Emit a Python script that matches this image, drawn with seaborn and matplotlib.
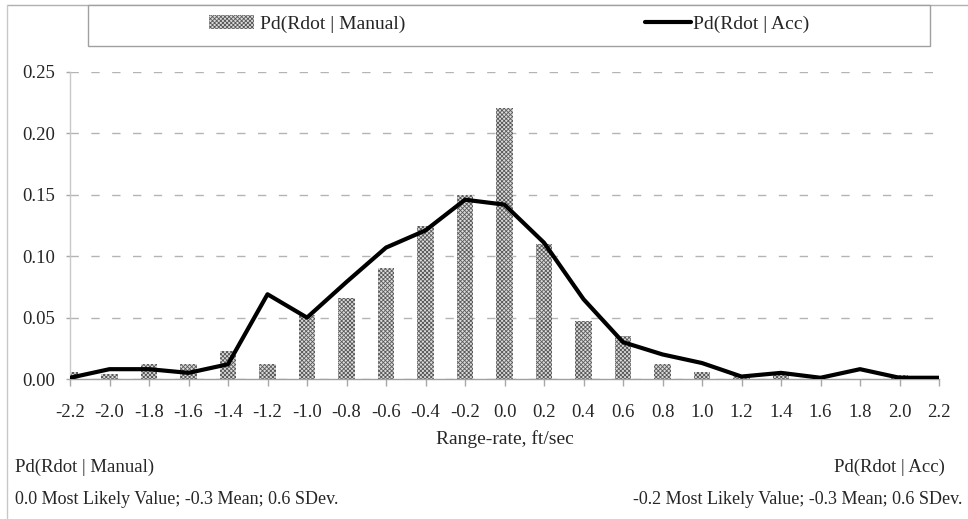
import numpy as np
import pandas as pd
import matplotlib
matplotlib.use("Agg")
import matplotlib.pyplot as plt
import seaborn as sns

# ---- data ----
rdot = [-2.2, -2.0, -1.8, -1.6, -1.4, -1.2, -1.0, -0.8, -0.6, -0.4, -0.2, 0.0,
        0.2, 0.4, 0.6, 0.8, 1.0, 1.2, 1.4, 1.6, 1.8, 2.0, 2.2]
pd_manual = [0.006, 0.004, 0.012, 0.012, 0.023, 0.012, 0.052, 0.066, 0.090, 0.125,
             0.150, 0.221, 0.110, 0.047, 0.035, 0.012, 0.006, 0.003, 0.004, 0.0,
             0.0, 0.003, 0.0]
pd_acc = [0.001, 0.008, 0.008, 0.005, 0.012, 0.069, 0.050, 0.079, 0.107, 0.121,
          0.146, 0.142, 0.111, 0.065, 0.030, 0.020, 0.013, 0.002, 0.005, 0.001,
          0.008, 0.001, 0.001]
y_ticks = [0.00, 0.05, 0.10, 0.15, 0.20, 0.25]
label_manual = "Pd(Rdot | Manual)"
label_acc = "Pd(Rdot | Acc)"
x_title = "Range-rate, ft/sec"
note_manual = "0.0 Most Likely Value; -0.3 Mean; 0.6 SDev."
note_acc = "-0.2 Most Likely Value; -0.3 Mean; 0.6 SDev."

df = pd.DataFrame({"rdot": np.round(rdot, 1), "manual": pd_manual, "acc": pd_acc})

sns.set_theme(style="white")
plt.rcParams["font.family"] = ["Liberation Serif", "DejaVu Serif"]
plt.rcParams["hatch.linewidth"] = 0.6
plt.rcParams["hatch.color"] = "#5a5a5a"

W, H = 968, 519
fig = plt.figure(figsize=(W / 100, H / 100), dpi=100)
fig.patch.set_facecolor("white")
ax = fig.add_axes([70 / W, 1 - 379 / H, (939 - 70) / W, (379 - 72) / H])

FS = 13.5
sns.barplot(data=df, x="rdot", y="manual", native_scale=True, width=0.42,
            color="#dcdcdc", ax=ax, label=label_manual, zorder=2)
for p in ax.patches:
    p.set_hatch("xxxxxxxx")
    p.set_edgecolor("#5a5a5a")
    p.set_linewidth(0)

sns.lineplot(data=df, x="rdot", y="acc", color="black", lw=3, ax=ax,
             label=label_acc, zorder=3)
if ax.get_legend() is not None:
    ax.get_legend().remove()

ax.set_xlim(-2.2, 2.2)
ax.set_ylim(0, 0.25)
ax.set_xticks(rdot)
ax.set_xticklabels([f"{v:.1f}" for v in rdot], fontsize=FS)
ax.set_yticks(y_ticks)
ax.set_yticklabels([f"{v:.2f}" for v in y_ticks], fontsize=FS)
ax.tick_params(axis="x", direction="out", length=5, color="#a8a8a8", width=1, pad=13, bottom=True)
ax.tick_params(axis="y", direction="out", length=3, color="#a8a8a8", width=1, pad=8, left=True)
ax.set_xlabel(x_title, fontsize=FS + 0.5, labelpad=6.5)
ax.set_ylabel("")
for s in ["top", "right"]:
    ax.spines[s].set_visible(False)
ax.spines["left"].set_color("#c8c8c8")
ax.spines["bottom"].set_color("#a0a0a0")
ax.spines["left"].set_linewidth(1)
ax.spines["bottom"].set_linewidth(1)
ax.yaxis.grid(True, color="#b4b4b4", linestyle=(0, (6, 9)), linewidth=1)
ax.set_axisbelow(True)
ax.set_facecolor("white")

# chart-area border (top and left edge)
fig.add_artist(plt.Line2D([7 / W, 1], [1 - 5 / H, 1 - 5 / H], transform=fig.transFigure,
                          color="#b0b0b0", lw=1))
fig.add_artist(plt.Line2D([7 / W, 7 / W], [0, 1 - 5 / H], transform=fig.transFigure,
                          color="#c8c8c8", lw=1))
# legend frame
fig.add_artist(plt.Rectangle((88 / W, 1 - 46 / H), (930 - 88) / W, 41 / H,
                             transform=fig.transFigure, facecolor="white",
                             edgecolor="#a0a0a0", lw=1, zorder=5))

handles, labels = ax.get_legend_handles_labels()
hmap = dict(zip(labels, handles))
leg1 = fig.legend([hmap[label_manual]], [label_manual], loc="center",
                  bbox_to_anchor=(307 / W, 1 - 24 / H), frameon=False,
                  fontsize=FS + 0.5, handlelength=2.3, handleheight=0.7, handletextpad=0.3)
leg2 = fig.legend([hmap[label_acc]], [label_acc], loc="center",
                  bbox_to_anchor=(727 / W, 1 - 24 / H), frameon=False,
                  fontsize=FS + 0.5, handlelength=2.4, handletextpad=0.1)
leg1.set_zorder(6)
leg2.set_zorder(6)

NS = 13
fig.text(15 / W, 1 - 467 / H, label_manual, fontsize=FS, ha="left", va="center")
fig.text(15 / W, 1 - 500 / H, note_manual, fontsize=NS, ha="left", va="center")
fig.text(945 / W, 1 - 467 / H, label_acc, fontsize=FS, ha="right", va="center")
fig.text(962 / W, 1 - 500 / H, note_acc, fontsize=NS, ha="right", va="center")

fig.savefig("out.png", dpi=100, facecolor="white")
